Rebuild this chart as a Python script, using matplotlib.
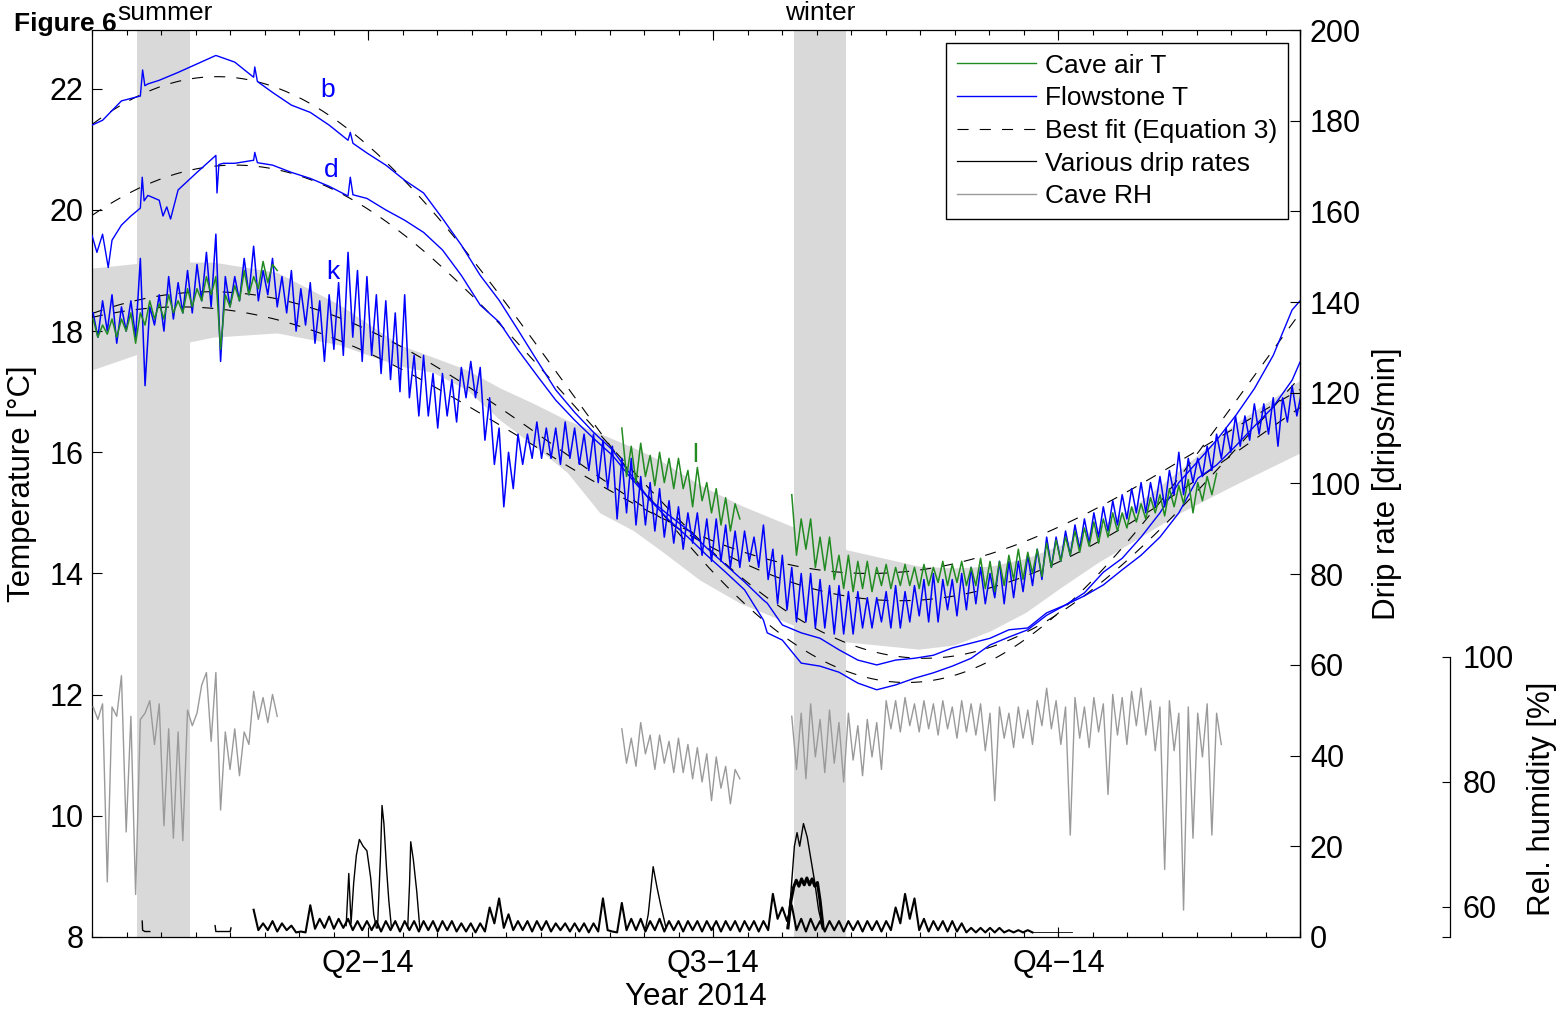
import numpy as np
import matplotlib
matplotlib.use('Agg')
import matplotlib.pyplot as plt
from matplotlib.lines import Line2D

plt.rcParams['font.family'] = ['Liberation Sans', 'DejaVu Sans']
plt.rcParams['font.size'] = 22
plt.rcParams['axes.linewidth'] = 0.9

# time axis: day of year 2014 (0 = 1 Jan)
x_min, x_max = 17.2, 337.1
quarter_days = [90.3, 181.7, 273.1]
quarter_labels = ['Q2\u221214', 'Q3\u221214', 'Q4\u221214']

summer = (29.1, 43.2)
winter = (203.1, 216.9)

# envelope of the fitted cave temperature (grey band)
band_days = [17.2, 32.6, 49.2, 66.2, 82.9, 98.8, 107.5, 116.5, 125.3, 134.0, 143.0, 151.7, 160.5, 167.6,
             178.2, 188.8, 202.8, 217.1, 236.2, 245.5, 255.0, 264.5, 273.8, 283.3, 292.9, 305.3, 319.4, 337.1]
band_hi = [19.04, 19.14, 19.14, 18.97, 18.43, 17.77, 17.57, 17.36, 17.06, 16.81, 16.53, 16.31, 16.08, 15.87,
           15.46, 15.13, 14.77, 14.39, 14.12, 14.09, 14.12, 14.25, 14.47, 14.75, 15.10, 15.71, 16.45, 17.19]
band_lo = [17.36, 17.69, 17.90, 17.97, 17.77, 17.42, 17.32, 17.03, 16.53, 16.12, 15.67, 15.00, 14.71, 14.39,
           13.89, 13.51, 13.15, 12.87, 12.75, 12.82, 13.05, 13.36, 13.77, 14.17, 14.53, 15.00, 15.45, 15.99]

# Equation 3 fits: mean, amplitude, day of maximum (b, d, k, cave air)
fit_mean = [17.2, 16.67, 16.1, 16.2]
fit_amp = [5.0, 4.07, 2.55, 2.2]
fit_peak = [50.3, 55.0, 48.5, 40.5]

# flowstone b
b_days = [17.2, 20, 25, 30, 30.6, 31.2, 32, 35, 40, 45, 50, 55, 60, 60.3, 61, 65, 70, 75, 80, 85, 85.6, 86.3,
          90, 95, 100, 105, 110, 115, 120, 125, 130, 135, 140, 145, 150, 155, 160, 165, 170, 175, 180, 185,
          190, 195, 196, 200, 205, 210, 215, 220, 225, 230, 235, 240, 245, 250, 255, 260, 265, 270, 275, 280,
          285, 290, 295, 300, 305, 310, 315, 320, 325, 330, 335, 337.1]
b_temp = [21.40, 21.48, 21.80, 21.88, 22.31, 22.05, 22.08, 22.14, 22.27, 22.41, 22.55, 22.44, 22.19, 22.36,
          22.12, 21.94, 21.73, 21.61, 21.40, 21.15, 21.28, 21.10, 20.94, 20.74, 20.49, 20.28, 19.86, 19.42,
          18.92, 18.51, 18.02, 17.52, 17.03, 16.66, 16.33, 16.04, 15.62, 15.21, 14.88, 14.60, 14.30, 14.02,
          13.73, 13.23, 13.02, 12.90, 12.52, 12.47, 12.37, 12.19, 12.08, 12.16, 12.27, 12.36, 12.47, 12.60,
          12.82, 12.95, 13.07, 13.31, 13.48, 13.68, 14.02, 14.25, 14.6, 15.0, 15.5, 15.85, 16.2, 16.6, 17.05,
          17.6, 18.35, 18.5]

# flowstone d
d_days = [17.2, 18.5, 20, 21.5, 22.5, 25, 27.5, 30, 30.5, 31, 32, 35, 36, 37, 38, 40, 45, 50, 50.3, 50.8, 52,
          55, 60, 60.3, 61, 65, 70, 75, 80, 85, 85.6, 86.3, 90, 95, 100, 105, 110, 115, 120, 125, 130, 135,
          140, 145, 150, 155, 160, 165, 170, 175, 180, 185, 190, 195, 196, 200, 205, 210, 215, 220, 225, 230,
          235, 240, 245, 250, 255, 260, 265, 270, 275, 280, 285, 290, 295, 300, 305, 310, 315, 320, 325, 330,
          335, 337.1]
d_temp = [19.58, 19.3, 19.6, 19.05, 19.5, 19.75, 19.9, 20.03, 20.54, 20.15, 20.24, 20.16, 19.9, 20.05, 19.85,
          20.33, 20.62, 20.90, 20.28, 20.75, 20.77, 20.77, 20.82, 20.95, 20.78, 20.74, 20.62, 20.52, 20.39,
          20.23, 20.54, 20.25, 20.19, 20.0, 19.83, 19.63, 19.34, 18.92, 18.43, 18.15, 17.69, 17.27, 16.86,
          16.53, 16.23, 15.95, 15.57, 15.21, 14.96, 14.72, 14.42, 14.14, 13.86, 13.56, 13.51, 13.15, 13.02,
          12.93, 12.74, 12.57, 12.49, 12.57, 12.60, 12.65, 12.77, 12.85, 12.93, 13.07, 13.10, 13.35, 13.48,
          13.63, 13.81, 14.06, 14.30, 14.60, 15.0, 15.57, 15.79, 16.10, 16.43, 16.75, 17.19, 17.49]

# flowstone k: local highs every 2.5 days from day 17.5, lows half a step later
k_start = 17.5
k_hi = [18.3, 18.5, 18.6, 18.4, 18.5, 19.2, 18.4, 18.6, 18.9, 18.8,
        19.0, 19.1, 19.3, 19.6, 18.9, 18.9, 19.2, 19.4, 19.0, 19.2,
        18.9, 19.0, 18.7, 18.8, 18.5, 18.6, 18.8, 19.3, 19.0, 18.9,
        18.6, 18.5, 18.3, 18.6, 17.6, 17.6, 17.3, 17.3, 17.2, 17.4,
        17.5, 17.4, 16.9, 16.4, 16.0, 16.3, 16.3, 16.5, 16.4, 16.4,
        16.5, 16.4, 16.3, 16.3, 16.2, 16.1, 15.9, 15.9, 15.6, 15.5,
        15.4, 15.2, 15.1, 15.0, 15.0, 14.9, 14.9, 14.8, 14.7, 14.7,
        14.6, 14.8, 14.4, 14.3, 14.1, 14.0, 14.0, 13.9, 13.8, 13.8,
        13.7, 13.7, 13.6, 13.6, 13.7, 13.8, 13.7, 13.8, 13.9, 14.0,
        13.9, 13.9, 14.0, 14.1, 14.1, 14.0, 14.2, 14.2, 14.2, 14.3,
        14.4, 14.6, 14.6, 14.7, 14.8, 14.9, 15.0, 15.1, 15.2, 15.3,
        15.4, 15.5, 15.5, 15.6, 15.7, 16.0, 15.9, 15.9, 16.1, 16.3,
        16.4, 16.6, 16.6, 16.8, 16.8, 16.9, 16.9, 17.1, 17.0]
k_lo = [17.9, 18.0, 17.8, 18.0, 17.9, 17.1, 18.1, 18.0, 18.2, 18.3,
        18.3, 18.5, 18.4, 17.5, 18.4, 18.5, 18.6, 18.5, 18.6, 18.4,
        18.3, 18.0, 18.1, 17.8, 17.5, 17.7, 17.6, 17.9, 17.5, 17.6,
        17.3, 17.2, 17.0, 16.9, 16.6, 16.6, 16.4, 16.6, 16.5, 16.9,
        16.9, 16.2, 15.8, 15.1, 15.4, 15.8, 15.9, 15.9, 15.9, 15.8,
        15.9, 15.8, 15.7, 15.5, 15.4, 14.9, 15.0, 14.8, 14.8, 14.7,
        14.6, 14.5, 14.4, 14.5, 14.3, 14.2, 14.2, 14.1, 14.1, 14.2,
        14.1, 13.9, 13.5, 13.4, 13.2, 13.2, 13.1, 13.1, 13.0, 13.0,
        13.0, 13.1, 13.1, 13.2, 13.1, 13.1, 13.2, 13.3, 13.2, 13.2,
        13.4, 13.3, 13.4, 13.5, 13.5, 13.6, 13.5, 13.6, 13.7, 13.8,
        13.9, 14.1, 14.2, 14.3, 14.4, 14.5, 14.6, 14.7, 14.8, 14.9,
        15.0, 15.0, 15.1, 15.1, 15.3, 15.3, 15.5, 15.6, 15.7, 15.9,
        16.0, 16.1, 16.2, 16.3, 16.3, 16.1, 16.5, 16.6]

# cave air logger (temperature and RH), three deployment periods; highs/lows every 2.5 days
air_starts = [17.5, 157.5, 202.5]
air_hi_1 = [18.2, 18.1, 18.2, 18.2, 18.3, 18.3, 18.5, 18.45, 18.6, 18.5, 18.7, 18.7, 18.9, 18.9, 18.6, 18.75,
            19.0, 18.9, 19.15, 19.1]
air_lo_1 = [17.9, 17.95, 17.9, 18.0, 17.8, 18.1, 18.2, 18.2, 18.3, 18.3, 18.4, 18.5, 18.6, 17.7, 18.4, 18.5,
            18.6, 18.7, 18.8, 19.0]
air_hi_2 = [16.4, 16.1, 16.15, 15.95, 16.0, 15.9, 15.9, 15.7, 15.75, 15.5, 15.4, 15.25, 15.15]
air_lo_2 = [15.6, 15.5, 15.6, 15.45, 15.5, 15.4, 15.4, 15.1, 15.2, 15.0, 14.8, 14.7, 14.9]
air_hi_3 = [15.3, 14.9, 14.9, 14.6, 14.6, 14.3, 14.3, 14.2, 14.2, 14.1, 14.15, 14.1, 14.15, 14.1, 14.15, 14.1,
            14.2, 14.15, 14.2, 14.1, 14.25, 14.2, 14.2, 14.3, 14.4, 14.35, 14.4, 14.5, 14.55, 14.6, 14.7, 14.75,
            14.85, 14.9, 15.0, 15.0, 15.1, 15.15, 15.25, 15.3, 15.4, 15.45, 15.55, 15.5, 15.6, 15.65]
air_lo_3 = [14.3, 14.4, 14.1, 14.05, 13.9, 13.75, 13.7, 13.75, 13.7, 13.8, 13.75, 13.8, 13.8, 13.75, 13.8, 13.85,
            13.8, 13.85, 13.8, 13.8, 13.75, 13.7, 13.8, 13.9, 13.9, 14.0, 13.95, 14.1, 14.2, 14.3, 14.35, 14.45,
            14.5, 14.6, 14.7, 14.75, 14.85, 14.9, 15.0, 14.95, 15.1, 15.15, 15.0, 15.2, 15.3]
rh_hi_1 = [92.0, 92.5, 92.0, 97.0, 90.5, 90.0, 93.0, 92.5, 88.5, 88.0, 91.5, 91.0, 97.5, 97.5, 88.0, 88.5,
           88.0, 94.5, 93.5, 94.0]
rh_lo_1 = [90.0, 64.0, 90.5, 72.0, 62.0, 91.0, 86.0, 73.0, 71.0, 70.6, 89.0, 95.5, 86.5, 75.5, 82.0, 81.0,
           86.0, 90.0, 89.5, 90.5]
rh_hi_2 = [88.5, 87.0, 89.5, 87.5, 87.5, 86.5, 87.0, 86.0, 85.5, 84.5, 84.0, 82.5, 82.0]
rh_lo_2 = [83.0, 82.5, 84.5, 82.0, 83.0, 81.5, 81.5, 80.5, 80.0, 77.0, 79.0, 76.5, 80.5]
rh_hi_3 = [90.5, 91.0, 92.5, 90.0, 91.5, 89.5, 91.0, 89.0, 90.0, 89.5, 93.0, 93.0, 93.5, 92.5, 93.0, 92.5,
           93.0, 92.0, 93.0, 92.5, 92.5, 91.0, 92.0, 91.0, 92.0, 91.5, 93.0, 95.0, 93.0, 92.0, 93.5, 92.0,
           93.5, 92.5, 94.0, 93.5, 94.5, 95.0, 93.0, 92.0, 93.0, 91.0, 92.0, 91.0, 92.5, 91.0]
rh_lo_3 = [82.0, 80.5, 84.0, 81.5, 83.0, 80.0, 83.5, 81.0, 84.0, 82.0, 88.5, 88.0, 89.0, 88.0, 88.5, 87.5,
           88.5, 87.0, 88.0, 87.5, 85.0, 77.0, 87.0, 85.5, 87.0, 86.0, 89.0, 88.5, 86.0, 71.5, 87.0, 85.5,
           88.0, 78.0, 87.5, 86.0, 89.0, 87.5, 85.0, 66.0, 85.0, 59.5, 71.0, 84.0, 71.5, 86.0]

# drip loggers [drips/min]
drip_start = 60.0
drip_hi = [6.0, 3.0, 3.5, 3.0, 2.5, 1.2, 7.0, 4.0, 4.5, 4.0,
           4.0, 3.5, 3.5, 3.5, 3.5, 3.5, 3.5, 3.5, 3.5, 3.5,
           3.5, 3.5, 3.0, 3.0, 3.0, 6.5, 8.5, 5.0, 3.5, 3.5,
           3.5, 3.5, 3.0, 3.0, 3.0, 3.0, 3.0, 8.5, 1.2, 7.5,
           4.0, 4.0, 3.5, 4.0, 3.5, 3.5, 3.5, 3.5, 3.5, 3.5,
           3.5, 3.5, 3.5, 3.5, 3.5, 9.5, 6.5, 7.0, 4.0, 4.0,
           3.5, 3.5, 3.5, 3.5, 3.5, 3.5, 3.5, 3.5, 6.5, 9.5,
           8.5, 4.0, 3.5, 3.5, 3.5, 3.0, 2.0, 2.0, 2.0, 2.0,
           1.5, 1.5, 1.5]
drip_lo = [1.5, 1.5, 1.2, 1.5, 1.0, 1.0, 1.8, 2.0, 1.8, 2.0,
           1.5, 1.5, 1.5, 1.2, 1.5, 1.2, 1.5, 1.2, 1.5, 1.2,
           1.5, 1.2, 1.2, 1.0, 1.2, 3.0, 2.0, 1.5, 1.5, 1.2,
           1.5, 1.2, 1.5, 1.2, 1.2, 1.0, 1.2, 1.5, 1.0, 1.5,
           1.5, 1.2, 1.5, 1.2, 1.5, 1.2, 1.5, 1.2, 1.5, 1.2,
           1.5, 1.2, 1.5, 1.2, 1.5, 4.0, 3.5, 1.5, 1.2, 1.5,
           1.2, 1.5, 1.2, 1.5, 1.2, 1.5, 1.2, 1.5, 3.0, 4.0,
           1.5, 1.2, 1.5, 1.2, 1.2, 1.0, 1.0, 1.0, 1.0, 1.0,
           1.0, 1.0, 1.0]
drip_tail_days = [266.25, 276.7]
drip_tail = [1.0, 1.0]
drip_early_days = [30.5, 30.6, 31.2, 32.5, 49.8, 50.0, 53.8, 54.0]
drip_early = [3.5, 1.5, 1.2, 1.2, 2.5, 1.2, 1.2, 2.0]
drip_p1_days = [84.5, 85.2, 85.8, 86.5, 87.2, 88.0, 89.0, 90.0, 91.0, 91.8, 92.5]
drip_p1 = [2.5, 14.0, 3.0, 12.0, 18.0, 21.5, 20.0, 19.0, 13.0, 5.0, 2.0]
drip_p2_days = [92.8, 93.6, 94.0, 94.5, 95.2, 95.8, 96.5]
drip_p2 = [2.0, 18.0, 29.0, 25.0, 15.0, 8.0, 2.0]
drip_p3_days = [100.8, 101.3, 101.6, 102.3, 103.2, 104.0]
drip_p3 = [2.0, 12.0, 21.0, 17.0, 10.0, 2.0]
drip_p4_days = [163.8, 164.5, 165.8, 166.8, 167.8, 169.2]
drip_p4 = [2.0, 5.0, 15.5, 11.0, 7.0, 2.0]
drip_p5_days = [201.3, 202.2, 203.2, 203.9, 204.6, 205.6, 206.6, 207.6, 208.6, 209.6, 210.7]
drip_p5 = [2.0, 9.0, 20.0, 23.0, 20.0, 25.0, 22.0, 17.0, 12.0, 6.0, 2.0]
drip_p6_days = [201.5, 202.3, 203.0, 203.7, 204.4, 205.1, 205.8, 206.5, 207.2, 207.9, 208.6, 209.3, 210.0, 210.8]
drip_p6 = [2.0, 8.0, 11.0, 12.5, 11.2, 12.8, 11.5, 13.0, 11.5, 12.8, 11.2, 12.0, 8.0, 2.0]

blue = '#0000ff'
green = '#228b22'
rh_grey = '#9a9a9a'
shade = '#d9d9d9'


def zigzag(day0, step, hi, lo):
    """Alternate logged highs and lows into one trace."""
    days, vals = [], []
    for i, h in enumerate(hi):
        days.append(day0 + i * step)
        vals.append(h)
        if i < len(lo):
            days.append(day0 + (i + 0.5) * step)
            vals.append(lo[i])
    return days, vals


fig = plt.figure(figsize=(15.62, 10.24), dpi=100)
ax = fig.add_axes([0.0589, 0.0850, 0.7734, 0.8857])
ax_drip = ax.twinx()
ax_rh = ax.twinx()

# seasons and fit envelope
ax.axvspan(*summer, color=shade, lw=0, zorder=0.5)
ax.axvspan(*winter, color=shade, lw=0, zorder=0.5)
ax.fill_between(band_days, band_lo, band_hi, color=shade, lw=0, zorder=1)

t = np.linspace(x_min, x_max, 800)
for m, a, p in zip(fit_mean, fit_amp, fit_peak):
    ax.plot(t, m + a * np.cos(2 * np.pi * (t - p) / 365.25), color='k', lw=0.8,
            dashes=(10, 10), zorder=3)

ax.plot(b_days, b_temp, color=blue, lw=1.0, zorder=4)
ax.plot(d_days, d_temp, color=blue, lw=1.0, zorder=4)
ax.plot(*zigzag(k_start, 2.5, k_hi, k_lo), color=blue, lw=1.1, zorder=4)

air_hi = [air_hi_1, air_hi_2, air_hi_3]
air_lo = [air_lo_1, air_lo_2, air_lo_3]
for start, hi, lo in zip(air_starts, air_hi, air_lo):
    ax.plot(*zigzag(start, 2.5, hi, lo), color=green, lw=1.1, zorder=5)

ax.text(79.7, 21.98, 'b', color=blue, fontsize=19, ha='center', va='center')
ax.text(80.5, 20.66, 'd', color=blue, fontsize=19, ha='center', va='center')
ax.text(81.0, 18.97, 'k', color=blue, fontsize=19, ha='center', va='center')
ax.text(176.9, 15.95, 'l', color=green, fontsize=19, ha='center', va='center')

# drip rates
ax_drip.plot(*zigzag(drip_start, 2.5, drip_hi, drip_lo), color='k', lw=1.5)
ax_drip.plot(drip_tail_days, drip_tail, color='k', lw=0.6)
ax_drip.plot(drip_early_days[:4], drip_early[:4], color='k', lw=1.0)
ax_drip.plot(drip_early_days[4:], drip_early[4:], color='k', lw=1.0)
for days, vals in [(drip_p1_days, drip_p1), (drip_p2_days, drip_p2), (drip_p3_days, drip_p3),
                   (drip_p4_days, drip_p4), (drip_p5_days, drip_p5)]:
    ax_drip.plot(days, vals, color='k', lw=1.0)
ax_drip.plot(drip_p6_days, drip_p6, color='k', lw=2.2)

# relative humidity
rh_hi = [rh_hi_1, rh_hi_2, rh_hi_3]
rh_lo = [rh_lo_1, rh_lo_2, rh_lo_3]
for start, hi, lo in zip(air_starts, rh_hi, rh_lo):
    ax_rh.plot(*zigzag(start, 2.5, hi, lo), color=rh_grey, lw=1.0)

# temperature axis
ax.set_xlim(x_min, x_max)
ax.set_ylim(8, 22.97)
ax.set_yticks(np.arange(8, 23, 2))
ax.set_xticks(quarter_days)
ax.set_xticklabels(quarter_labels)
ax.set_xticks(np.linspace(x_min, x_max, 36), minor=True)
ax.tick_params(axis='both', which='major', direction='in', length=7, width=0.8, top=True)
ax.tick_params(axis='x', which='minor', direction='in', length=3.5, width=0.8, top=True)
ax.tick_params(axis='y', which='both', right=False, pad=6)
ax.tick_params(axis='x', pad=9)
ax.set_ylabel('Temperature [\u00b0C]', fontsize=22.5)
ax.yaxis.set_label_coords(-0.0455, 0.5)
ax.set_xlabel('Year 2014', fontsize=22.5)
ax.xaxis.set_label_coords(0.5, -0.05)

# drip rate axis
ax_drip.set_ylim(0, 200)
ax_drip.set_yticks(np.arange(0, 201, 20))
ax_drip.tick_params(axis='y', direction='in', length=7, width=0.8, pad=7)
ax_drip.set_ylabel('Drip rate [drips/min]', fontsize=22.5)
ax_drip.yaxis.set_label_coords(1.0596, 0.5)
for side in ['left', 'top', 'bottom']:
    ax_drip.spines[side].set_visible(False)

# relative humidity axis, offset to the right
rh_bottom = 55.2
ax_rh.set_ylim(rh_bottom, 200.3)
ax_rh.spines['right'].set_position(('axes', 1.1242))
ax_rh.spines['right'].set_bounds(rh_bottom, 100)
for side in ['left', 'top', 'bottom']:
    ax_rh.spines[side].set_visible(False)
ax_rh.set_yticks([rh_bottom, 60, 80, 100])
ax_rh.set_yticklabels(['', '60', '80', '100'])
ax_rh.tick_params(axis='y', direction='in', length=6, width=0.8, pad=9)
ax_rh.set_ylabel('Rel. humidity [%]', fontsize=22.5)
ax_rh.yaxis.set_label_coords(1.188, 0.152)

# season labels
ax.text(np.mean(summer) + 0.3, 1.011, 'summer', fontsize=19, ha='center', va='baseline',
        transform=ax.get_xaxis_transform())
ax.text(np.mean(winter), 1.011, 'winter', fontsize=19, ha='center', va='baseline',
        transform=ax.get_xaxis_transform())
fig.text(14 / 1562, 1 - 31 / 1024, 'Figure 6', fontsize=19, fontweight='bold', va='baseline')

handles = [
    Line2D([], [], color=green, lw=1.0),
    Line2D([], [], color=blue, lw=1.0),
    Line2D([], [], color='k', lw=0.8, dashes=(10, 10)),
    Line2D([], [], color='k', lw=0.9),
    Line2D([], [], color=rh_grey, lw=1.0),
]
labels = ['Cave air T', 'Flowstone T', 'Best fit (Equation 3)', 'Various drip rates', 'Cave RH']
leg = ax_rh.legend(handles, labels, loc='upper right', bbox_to_anchor=(1288 / 1562, 1 - 43 / 1024),
                   bbox_transform=fig.transFigure, fontsize=19, handlelength=3.0, handletextpad=0.35,
                   labelspacing=0.33, borderpad=0.4, borderaxespad=0, fancybox=False, framealpha=1)
leg.get_frame().set_edgecolor('k')
leg.get_frame().set_linewidth(1.0)

fig.savefig('out.png', dpi=100)
